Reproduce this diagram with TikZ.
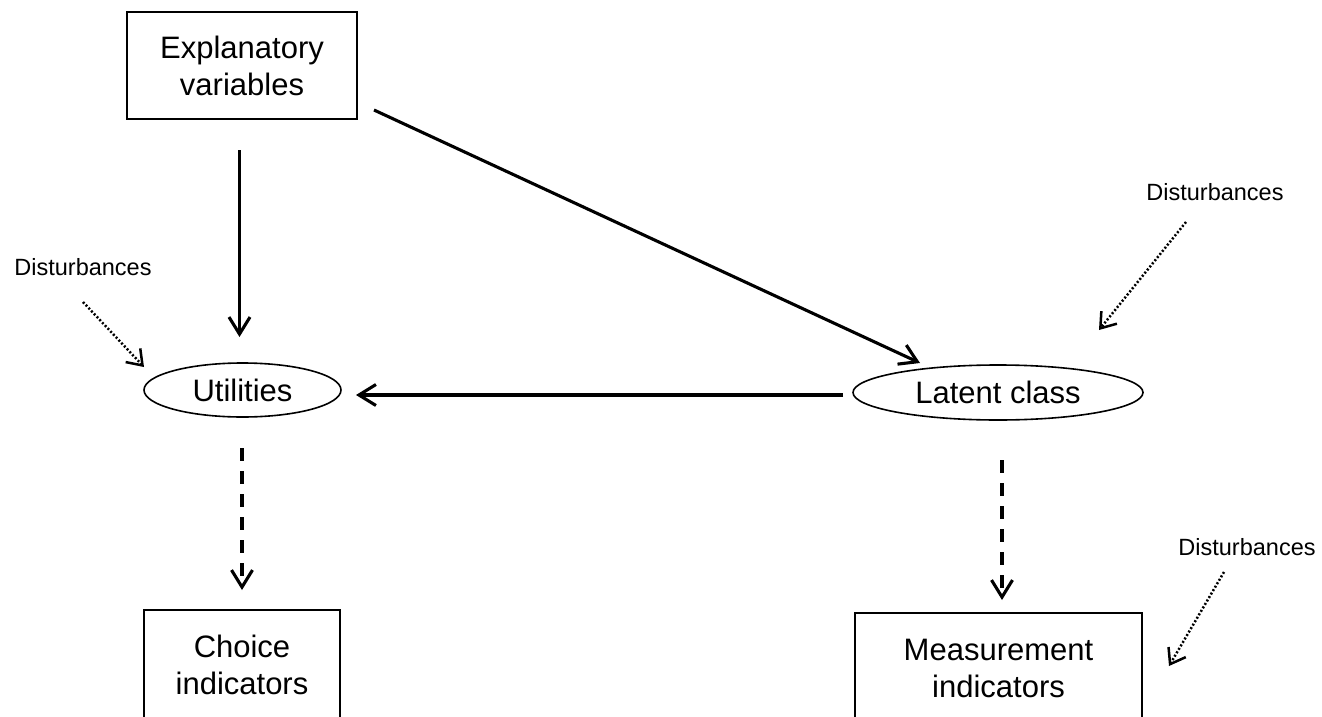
\documentclass[tikz,border=0pt]{standalone}
\usepackage{fontspec}
\setmainfont{Liberation Sans}
\usetikzlibrary{arrows.meta,shapes.geometric}
\begin{document}
\begin{tikzpicture}[x=1pt,y=-1pt,
 boxnode/.style={draw,line width=2pt,rectangle,inner sep=0pt,align=center,font=\fontsize{31}{37}\selectfont},
 ellnode/.style={draw,line width=1.6pt,ellipse,inner sep=0pt,font=\fontsize{31}{37}\selectfont},
 distlabel/.style={anchor=base,inner sep=0pt,font=\fontsize{23.5}{28}\selectfont},
 barbtip/.style={-{Straight Barb[length=17pt,width=21pt]}},
 solidarrow/.style={barbtip,line width=3.1pt},
 dashedarrow/.style={barbtip,line width=3.1pt,dash pattern=on 13pt off 10pt},
 dottedarrow/.style={-{Straight Barb[length=14pt,width=20pt]},line width=2.5pt,dash pattern=on 2pt off 2pt},
]
\useasboundingbox (0,0) rectangle (1322,717);
\clip (0,0) rectangle (1322,717);
\fill[white] (0,0) rectangle (1322,717);

% nodes
\node[boxnode,minimum width=230pt,minimum height=107pt] (expl) at (242,65.5) {Explanatory\\variables};
\node[ellnode,minimum width=197pt,minimum height=54pt] (util) at (242.5,390) {Utilities};
\node[ellnode,minimum width=290pt,minimum height=55pt] (latent) at (998,392.5) {Latent class};
\node[boxnode,minimum width=196pt,minimum height=109.4pt] (choice) at (242,664.7) {Choice\\indicators};
\node[boxnode,minimum width=287pt,minimum height=110pt] (meas) at (998.5,668) {Measurement\\indicators};

\node[distlabel] (d1) at (83,275) {Disturbances};
\node[distlabel] (d2) at (1215,200) {Disturbances};
\node[distlabel] (d3) at (1247,555) {Disturbances};

% connector end points
\coordinate (explDown) at (239.5,150);
\coordinate (utilTop) at (239.5,337);
\coordinate (explRight) at (374,110);
\coordinate (latentTop) at (920,363);
\coordinate (latentLeft) at (843,395);
\coordinate (utilRight) at (356,395);
\coordinate (utilDown) at (242,448);
\coordinate (choiceTop) at (242,590);
\coordinate (latentDown) at (1002,460);
\coordinate (measTop) at (1002,600);
\coordinate (d1s) at (83,302);
\coordinate (d1t) at (144,367);
\coordinate (d2s) at (1186,222);
\coordinate (d2t) at (1099,330);
\coordinate (d3s) at (1224,572);
\coordinate (d3t) at (1169,666);

% connectors
\draw[solidarrow] (explDown) -- (utilTop);
\draw[solidarrow] (explRight) -- (latentTop);
\draw[solidarrow] (latentLeft) -- (utilRight);
\draw[dashedarrow] (utilDown) -- (choiceTop);
\draw[dashedarrow] (latentDown) -- (measTop);
\draw[dottedarrow] (d1s) -- (d1t);
\draw[dottedarrow] (d2s) -- (d2t);
\draw[dottedarrow] (d3s) -- (d3t);
\end{tikzpicture}
\end{document}
